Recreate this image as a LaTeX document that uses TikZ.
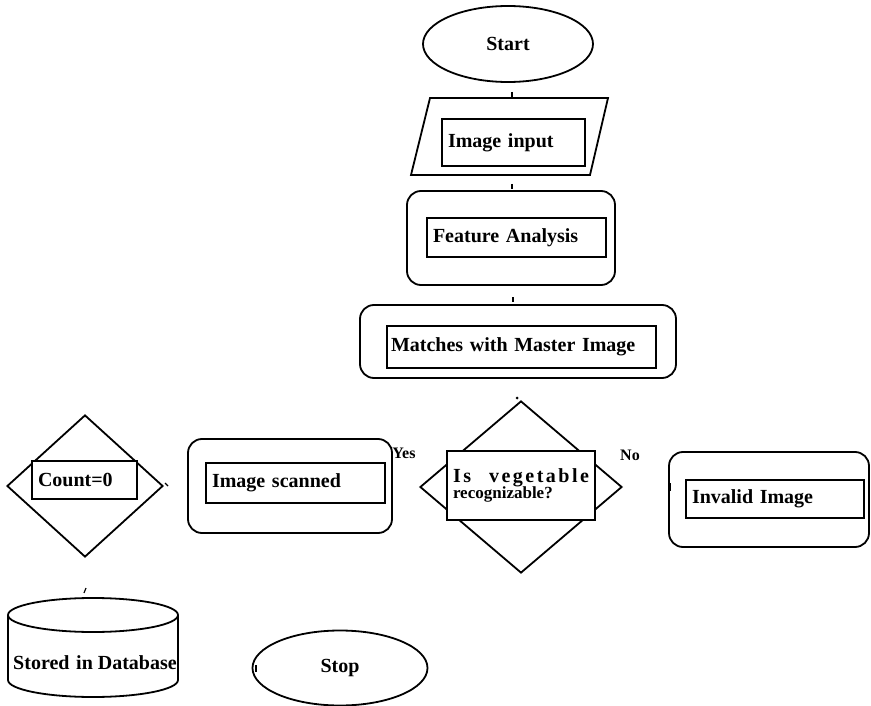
\documentclass[tikz,border=0pt]{standalone}
\usepackage{fontspec}
\setmainfont{Liberation Serif}
\usetikzlibrary{shapes.geometric}
\newcommand\lbl{\bfseries\fontsize{20}{22}\selectfont}
\newcommand\spreadword[2]{\hbox to #1{#2}}
\tikzset{
  outline/.style={draw, line width=1.8pt},
  roundbox/.style={outline, rectangle, rounded corners=14pt, inner sep=0pt},
  labelbox/.style={draw, fill=white, line width=1.8pt, rectangle, inner ysep=0pt, inner xsep=6pt,
                   align=left, font=\lbl},
  oval/.style={outline, ellipse, inner sep=0pt, font=\lbl},
  decision/.style={outline, diamond, inner sep=0pt},
  stub/.style={line width=1.2pt},
}
\begin{document}
\begin{tikzpicture}[x=1pt,y=-1pt]
\useasboundingbox (0,0) rectangle (871,706);

% Start
\node[oval, minimum width=170pt, minimum height=76pt] (start) at (508,44) {Start};

% input (parallelogram)
\draw[outline] (430,98) -- (608,98) -- (590,175) -- (411,175) -- cycle;
\coordinate (inputc) at (510,136);
\node[labelbox, text width=131pt, minimum height=47pt] (input) at (513.5,142.5) {Image input};

% Feature analysis
\node[roundbox, minimum width=208pt, minimum height=94pt] (feat) at (511,238) {};
\node[labelbox, text width=167pt, minimum height=39pt] (featin) at (516.5,237.5) {Feature Analysis};

% Matching
\node[roundbox, minimum width=316pt, minimum height=73pt] (match) at (518,341.5) {};
\node[labelbox, text width=261pt, minimum height=42pt, inner xsep=4pt] (matchin) at (521.5,347) {Matches with Master Image};

% Decision
\node[decision, minimum width=202pt, minimum height=172pt] (dec) at (521,487) {};
\node[draw, fill=white, line width=1.8pt, rectangle, minimum width=148pt, minimum height=69pt, inner sep=0pt,
      font=\bfseries, align=left] (decin) at (521,485.5)
  {\fontsize{20}{20}\selectfont\spreadword{136pt}{I\hfil s\hskip 18pt v\hfil e\hfil g\hfil e\hfil t\hfil a\hfil b\hfil l\hfil e}\\[-1pt]
   \fontsize{17}{18}\selectfont recognizable?};
\node[font=\bfseries\fontsize{16}{16}\selectfont] (yes) at (404,453) {Yes};
\node[font=\bfseries\fontsize{16}{16}\selectfont] (no) at (630,455) {No};

% Image scanned
\node[roundbox, minimum width=204pt, minimum height=94pt] (scan) at (290,486) {};
\node[labelbox, text width=167pt, minimum height=40pt] (scanin) at (295.5,483) {Image scanned};

% Count
\node[decision, minimum width=156pt, minimum height=142pt] (count) at (85,486) {};
\node[labelbox, text width=93pt, minimum height=38pt] (countin) at (84.5,480) {Count=0};

% Invalid
\node[roundbox, minimum width=200pt, minimum height=95pt] (inv) at (769,499.5) {};
\node[labelbox, text width=166pt, minimum height=38pt] (invin) at (775,499) {Invalid Image};

% Database cylinder
\draw[outline] (93,615) ellipse [x radius=85, y radius=17];
\draw[outline] (8,615) -- (8,680) arc[start angle=180, end angle=0, x radius=85, y radius=17] -- (178,615);
\node[font=\lbl, inner sep=0pt] (db) at (95,663) {Stored\,\,in Database};

% Stop
\node[oval, minimum width=175pt, minimum height=75pt] (stop) at (340,668) {Stop};

% connector stubs
\coordinate (s1) at (512,92);
\draw[stub] (s1) -- ++(0,5);
\coordinate (s2) at (512,184);
\draw[stub] (s2) -- ++(0,5);
\coordinate (s3) at (513,297);
\draw[stub] (s3) -- ++(0,5);
\fill (517,398) circle (1.5pt);
\coordinate (s5) at (165,483);
\draw[stub] (s5) -- ++(3,3);
\coordinate (s6) at (392,482);
\draw[stub] (s6) -- ++(0,7);
\coordinate (s7) at (670,483);
\draw[stub] (s7) -- ++(0,8);
\coordinate (s8) at (86,588);
\draw[stub] (s8) -- ++(-2,5);
\coordinate (s9) at (256,665);
\draw[stub] (s9) -- ++(0,7);
\end{tikzpicture}
\end{document}
